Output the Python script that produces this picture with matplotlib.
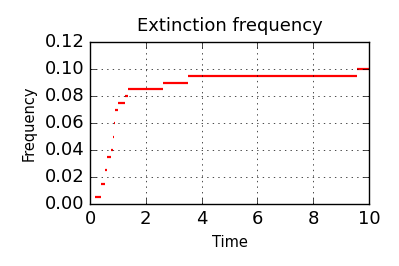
import matplotlib
matplotlib.use("Agg")
import matplotlib.pyplot as plt

plt.style.use("classic")

# step levels of the extinction frequency and the time span of each level
levels = [0.005, 0.015, 0.025, 0.035, 0.040, 0.050, 0.060, 0.070, 0.075,
          0.080, 0.085, 0.090, 0.095, 0.100]
starts = [0.18, 0.38, 0.54, 0.60, 0.75, 0.81, 0.85, 0.90, 1.00,
          1.25, 1.36, 2.60, 3.50, 9.58]
ends = starts[1:] + [10.0]

fig = plt.figure(figsize=(3.99, 2.66), dpi=100)
fig.patch.set_facecolor("white")
ax = fig.add_axes([0.2256, 0.233, 0.6992, 0.608])

ax.hlines(levels, starts, ends, colors="r", linewidth=1.6)

ax.set_xlim(0, 10)
ax.set_ylim(0, 0.12)
ax.set_xticks([0, 2, 4, 6, 8, 10])
ax.set_yticks([0.00, 0.02, 0.04, 0.06, 0.08, 0.10, 0.12])
ax.set_yticklabels(["0.00", "0.02", "0.04", "0.06", "0.08", "0.10", "0.12"])
ax.tick_params(labelsize=13)
ax.grid(True, linestyle=":", color="k")

ax.set_title("Extinction frequency", fontsize=13, pad=8)
ax.set_xlabel("Time", fontsize=10.5)
ax.set_ylabel("Frequency", fontsize=10.5, labelpad=6)

fig.savefig("out.png", dpi=100, facecolor="white")
